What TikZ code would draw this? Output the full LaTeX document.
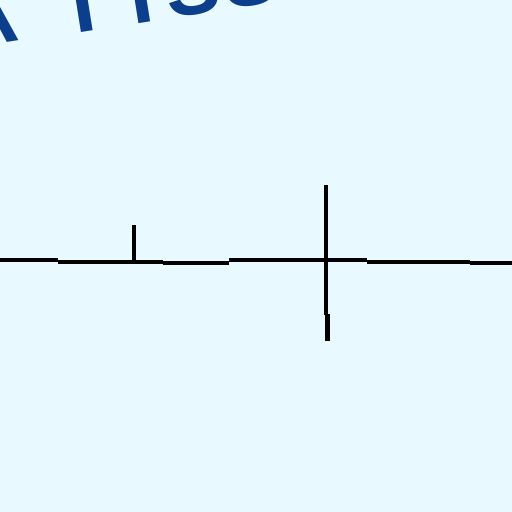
\documentclass[tikz,border=0pt]{standalone}
\usepackage{fontspec}
\setmainfont{Liberation Sans}
\definecolor{bgcyan}{RGB}{232,250,255}
\definecolor{titleblue}{RGB}{12,62,140}
\begin{document}
\begin{tikzpicture}[x=1pt,y=-1pt,
  wire/.style={line width=4pt,black,line cap=butt},
  letter/.style={anchor=base,inner sep=0pt,text=titleblue,font=\fontsize{82}{82}\selectfont\bfseries,rotate=9}]
\useasboundingbox (0,0) rectangle (512,512);
\fill[bgcyan] (0,0) rectangle (512,512);
\begin{scope}
\clip (0,0) rectangle (512,512);
\node[letter] (l1) at (-8,45) {A};
\node[letter] (l2) at (87,32) {T};
\node[letter] (l3) at (145,23) {I};
\node[letter] (l4) at (197,14) {S};
\node[letter] (l5) at (254,5) {S};
\node[letter] (l6) at (311,-4) {U};
\end{scope}
% horizontal line in stepped pieces
\draw[wire] (0,260) -- (58,260);
\draw[wire] (58,262) -- (163,262);
\draw[wire] (163,263) -- (229,263);
\draw[wire] (229,259.5) -- (367,259.5);
\draw[wire] (367,261.5) -- (470,261.5);
\draw[wire] (470,263) -- (512,263);
% vertical ticks
\draw[wire] (133.5,225) -- (133.5,262);
\draw[wire] (325.5,185) -- (325.5,315);
\draw[line width=5pt,black] (327,314) -- (327,341);
\end{tikzpicture}
\end{document}
